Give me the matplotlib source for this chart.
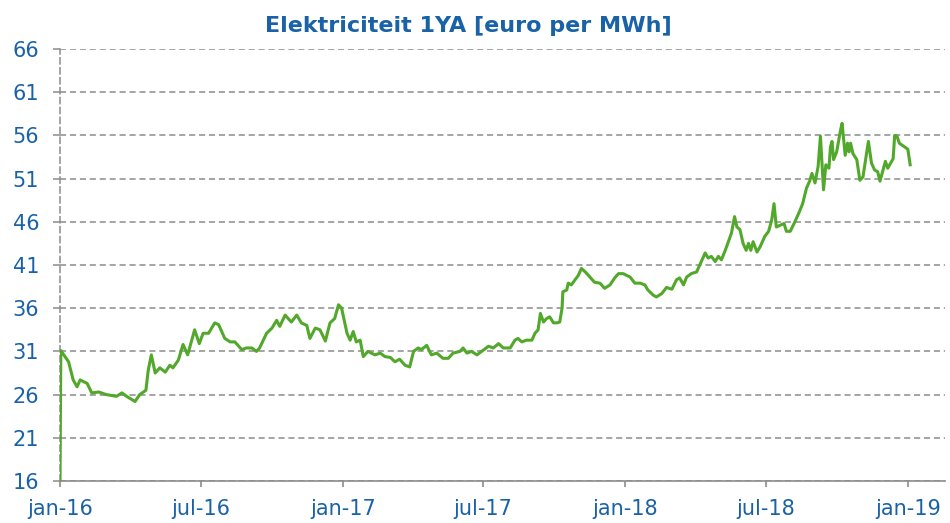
import matplotlib
matplotlib.use("Agg")
import matplotlib.pyplot as plt
import matplotlib.dates as mdates
import pandas as pd
import numpy as np

# ---- data ----
start_date = "2016-01-01"
days_since_start = [
    0, 1, 11, 17, 22, 26, 35, 41, 50, 60, 73, 80, 86, 97, 103, 111, 114, 118, 123, 129,
    136, 142, 146, 153, 159, 165, 174, 180, 185, 192, 200, 205, 213, 220, 226, 235, 241, 248, 254, 258,
    267, 274, 280, 284, 291, 299, 306, 312, 319, 323, 330, 336, 343, 349, 355, 360, 364, 371, 375, 379,
    383, 388, 392, 398, 407, 414, 420, 427, 433, 439, 446, 452, 457, 463, 467, 474, 480, 487, 495, 502,
    508, 517, 521, 526, 532, 539, 545, 554, 560, 567, 573, 582, 588, 592, 597, 603, 610, 614, 618, 621,
    625, 629, 633, 638, 642, 646, 649, 650, 655, 657, 661, 666, 670, 674, 679, 685, 691, 698, 704, 711,
    717, 722, 728, 737, 743, 750, 756, 760, 767, 771, 778, 784, 791, 797, 801, 806, 810, 816, 823, 827,
    834, 838, 842, 847, 851, 855, 860, 864, 868, 872, 875, 879, 883, 887, 890, 893, 896, 901, 905, 911,
    916, 920, 923, 926, 931, 936, 939, 944, 950, 956, 960, 965, 969, 972, 976, 980, 983, 987, 990, 994,
    996, 998, 1000, 1004, 1009, 1011, 1015, 1018, 1020, 1022, 1025, 1030, 1034, 1038, 1042, 1045, 1049, 1053, 1057, 1060,
    1064, 1067, 1070, 1077, 1079, 1082, 1085, 1096, 1099,
]
price = [
    16.0, 31.1, 29.8, 27.7, 26.9, 27.7, 27.3, 26.2, 26.3, 26.0, 25.8, 26.2, 25.8, 25.2, 26.0, 26.5, 28.8, 30.6, 28.5, 29.1,
    28.6, 29.4, 29.1, 30.0, 31.8, 30.6, 33.5, 31.9, 33.1, 33.1, 34.3, 34.1, 32.5, 32.1, 32.1, 31.2, 31.4, 31.4, 31.0, 31.4,
    33.1, 33.7, 34.6, 33.9, 35.2, 34.4, 35.2, 34.3, 34.0, 32.5, 33.7, 33.5, 32.2, 34.3, 34.8, 36.4, 36.0, 33.1, 32.3, 33.3,
    32.1, 32.3, 30.4, 31.0, 30.6, 30.8, 30.4, 30.3, 29.8, 30.1, 29.4, 29.2, 31.0, 31.4, 31.2, 31.7, 30.6, 30.8, 30.2, 30.2,
    30.8, 31.0, 31.4, 30.8, 31.0, 30.6, 31.0, 31.6, 31.4, 31.9, 31.4, 31.4, 32.3, 32.5, 32.1, 32.3, 32.3, 33.1, 33.5, 35.4,
    34.4, 34.8, 35.0, 34.3, 34.3, 34.4, 36.0, 37.9, 38.1, 38.9, 38.7, 39.3, 39.8, 40.6, 40.2, 39.6, 39.0, 38.9, 38.3, 38.7,
    39.5, 40.0, 40.0, 39.6, 38.9, 38.9, 38.7, 38.1, 37.5, 37.3, 37.7, 38.4, 38.2, 39.3, 39.5, 38.7, 39.6, 40.0, 40.2, 41.0,
    42.4, 41.8, 42.0, 41.4, 42.0, 41.6, 42.7, 43.7, 44.7, 46.6, 45.4, 45.1, 43.5, 42.7, 43.5, 42.7, 43.7, 42.5, 43.1, 44.3,
    44.9, 46.2, 48.1, 45.4, 45.6, 45.8, 44.9, 44.9, 46.0, 47.2, 48.1, 49.9, 50.7, 51.6, 50.5, 52.4, 55.9, 49.7, 52.6, 52.2,
    54.7, 55.3, 53.2, 54.1, 56.6, 57.4, 53.7, 55.1, 54.1, 55.1, 53.9, 53.2, 50.8, 51.2, 53.5, 55.3, 52.8, 52.0, 51.8, 50.7,
    52.0, 53.0, 52.2, 53.3, 56.0, 55.9, 55.1, 54.4, 52.6,
]
x_tick_dates = ["2016-01-01", "2016-07-01", "2017-01-01", "2017-07-01",
                "2018-01-01", "2018-07-01", "2019-01-01"]
x_tick_labels = ["jan-16", "jul-16", "jan-17", "jul-17", "jan-18", "jul-18", "jan-19"]
y_ticks = [16, 21, 26, 31, 36, 41, 46, 51, 56, 61, 66]
title = "Elektriciteit 1YA [euro per MWh]"

# ---- plot ----
blue = "#1A62A8"
green = "#52A82B"
grid_gray = "#8C8C8C"

dates = pd.Timestamp(start_date) + pd.to_timedelta(days_since_start, unit="D")

fig = plt.figure(figsize=(9.5, 5.23), dpi=100)
ax = fig.add_axes([0.0632, 0.0803, 0.9315, 0.826])

ax.plot(dates, price, color=green, linewidth=2.2, solid_joinstyle="round", zorder=3)

ax.set_ylim(16, 66)
ax.set_yticks(y_ticks)
ax.set_xlim(pd.Timestamp(start_date), pd.Timestamp(start_date) + pd.Timedelta(days=1144))
ax.set_xticks(pd.to_datetime(x_tick_dates))
ax.set_xticklabels(x_tick_labels)

ax.yaxis.grid(True, color=grid_gray, linestyle=(0, (4, 2.5)), linewidth=1.1)
ax.xaxis.grid(False)
ax.set_axisbelow(True)

for s in ["top", "right"]:
    ax.spines[s].set_visible(False)
ax.spines["bottom"].set_color(grid_gray)
ax.spines["bottom"].set_linewidth(1.2)
ax.spines["left"].set_color(grid_gray)
ax.spines["left"].set_linewidth(1.1)
ax.spines["left"].set_linestyle((0, (4, 2.5)))

ax.tick_params(axis="y", colors=grid_gray, labelcolor=blue, labelsize=15,
               length=5, width=1.1, pad=10)
ax.tick_params(axis="x", colors=grid_gray, labelcolor=blue, labelsize=15,
               length=4, width=1.2, pad=9)

fig.text(0.4926, 1 - 32 / 523, title, color=blue, fontsize=16, fontweight="bold",
         ha="center", va="baseline")

fig.savefig("out.png", dpi=100)
